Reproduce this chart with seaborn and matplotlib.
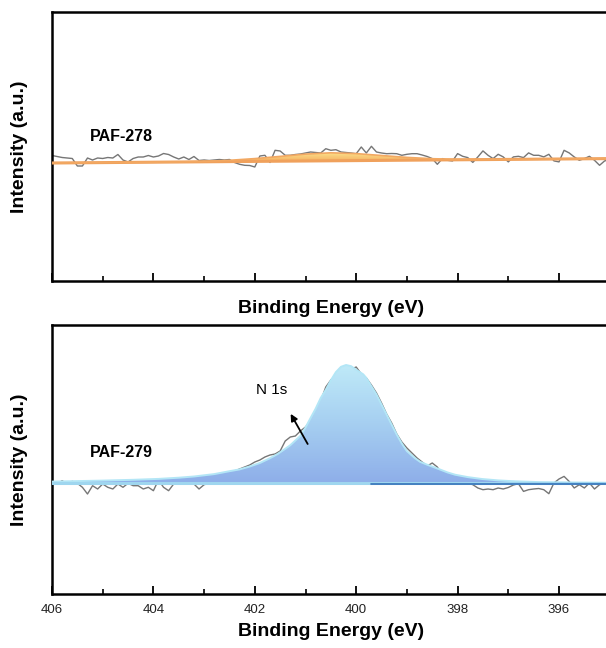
import numpy as np
import pandas as pd
import matplotlib
matplotlib.use("Agg")
import matplotlib.pyplot as plt
import seaborn as sns
from matplotlib.colors import LinearSegmentedColormap
from matplotlib.ticker import MultipleLocator

# ---------------- data ----------------
energy = np.round(np.arange(406.0, 394.95, -0.1), 1)  # binding energy grid (eV)

raw_278 = [7.5, 6.5, 5.5, 5.0, 4.5, -3.0, -3.0, 5.0, 3.0, 5.0,
           4.5, 5.5, 5.0, 8.5, 3.0, 1.0, 4.5, 6.0, 6.0, 7.5,
           6.0, 7.0, 9.5, 8.5, 6.0, 4.0, 6.0, 3.5, 6.5, 2.5,
           3.0, 2.5, 3.0, 3.5, 3.0, 3.5, 0.5, -1.3, -2.3, -2.5,
           -4.0, 7.0, 7.7, 0.5, 12.7, 12.0, 7.7, 7.7, 8.5, 9.0,
           10.0, 11.0, 10.5, 10.0, 14.3, 12.7, 13.3, 11.0, 10.5, 10.0,
           9.3, 16.0, 10.0, 16.7, 11.0, 10.0, 9.3, 9.5, 9.3, 7.7,
           8.7, 9.3, 9.3, 8.0, 6.5, 4.4, -1.3, 4.4, 2.7, 2.0,
           9.4, 6.7, 5.4, 0.6, 6.1, 12.1, 7.7, 4.4, 8.7, 6.1,
           1.1, 6.1, 6.7, 5.4, 10.1, 7.7, 7.7, 6.1, 8.7, 2.1,
           1.1, 12.7, 10.1, 6.1, 2.7, 4.4, 6.7, 2.7, -2.3, 2.1, 3.4]

raw_279 = [0.7, -1.0, 2.3, -1.0, 1.7, -0.3, -4.3, -11.0, -2.7, -6.0,
           -1.0, -4.3, -6.0, -1.0, -4.3, -0.3, -2.7, -2.7, -6.0, -4.3,
           -7.7, 3.0, -4.3, -7.7, -1.0, -0.3, 0.7, 0.3, -1.0, -6.0,
           -1.7, -0.3, -1.0, 0.7, 8.0, 10.0, 12.0, 14.0, 16.0, 18.0,
           21.0, 23.0, 26.0, 28.0, 29.0, 32.0, 42.0, 46.0, 47.0, 52.0,
           56.0, 62.0, 70.0, 82.0, 96.0, 103.0, 108.0, 112.0, 113.0, 114.0,
           116.0, 109.0, 105.0, 98.0, 90.0, 80.0, 69.0, 60.0, 49.0, 41.0,
           35.0, 30.0, 25.0, 21.0, 17.0, 20.0, 16.0, 8.0, 6.0, 5.0,
           4.0, 2.0, 0.0, -1.7, -5.0, -6.7, -6.0, -6.7, -5.0, -6.0,
           -4.5, -2.0, -0.7, -8.4, -6.7, -6.0, -5.5, -6.7, -10.7, 0.0,
           4.0, 6.6, 1.6, -5.0, -1.7, -5.0, 0.0, -6.0, -1.7, 0.0, 0.0]

# fitted component, PAF-278 (total envelope and its background)
fit278_x = [406.0, 403.5, 403.0, 402.5, 402.0, 401.5, 401.0, 400.5,
            400.0, 399.5, 399.0, 398.5, 398.0, 397.5, 395.0]
fit278_bg = [0.0, 1.0, 1.2, 1.4, 1.6, 1.8, 2.0, 2.2,
             2.4, 2.6, 2.8, 3.0, 3.2, 3.4, 4.4]
fit278_y = [0.0, 1.0, 1.6, 2.7, 4.4, 6.6, 8.9, 10.2,
            9.4, 7.5, 5.6, 4.3, 3.6, 3.4, 4.4]

# fitted N 1s component, PAF-279
fit279_x = [406.0, 405.0, 404.4, 403.9, 403.5, 403.2, 402.8, 402.5, 402.3,
            402.1, 401.9, 401.7, 401.55, 401.4, 401.3, 401.2, 401.1, 401.0,
            400.9, 400.8, 400.7, 400.6, 400.5, 400.4, 400.3, 400.2, 400.1,
            400.0, 399.86, 399.8, 399.7, 399.6, 399.5, 399.4, 399.3, 399.2,
            399.1, 399.0, 398.84, 398.74, 398.6, 398.44, 398.2, 398.05, 397.8,
            397.52, 397.2, 396.86, 396.4, 395.7, 395.0]
fit279_y = [1.4, 2.4, 3.2, 4.1, 5.3, 6.5, 8.9, 11.8, 13.6,
            16.5, 20.0, 24.8, 29.0, 34.2, 37.8, 42.5, 47.2, 55.5,
            65.0, 74.3, 85.0, 93.2, 102.7, 110.9, 116.2, 118.0, 116.8,
            113.3, 108.6, 105.0, 96.8, 88.5, 78.5, 68.4, 58.4, 48.4,
            39.5, 31.9, 24.8, 21.2, 18.3, 15.3, 10.6, 8.3, 5.9,
            4.0, 2.6, 1.7, 0.9, 0.5, 0.2]

base279_x = [406.0, 395.0]
base279_y = [0.0, 0.0]
base279_dark_x = [399.7, 395.0]
base279_dark_y = [-0.6, -0.6]

labels = ["PAF-278", "PAF-279"]
peak_label = "N 1s"

# ---------------- style ----------------
sns.set_style("white")
plt.rcParams["font.family"] = ["Liberation Sans", "DejaVu Sans"]
plt.rcParams["text.color"] = "black"
plt.rcParams["axes.labelcolor"] = "black"

W, H = 606, 648
fig = plt.figure(figsize=(W / 100, H / 100), dpi=100)
left = 52 / W
width = (609.7 - 52) / W
ax1 = fig.add_axes([left, 1 - 281 / H, width, 269 / H])
ax2 = fig.add_axes([left, 1 - 594 / H, width, 269 / H])


def grad_fill(ax, x, y0, y1, colors, top):
    poly = ax.fill_between(x, y0, y1, color="none", lw=0)
    cmap = LinearSegmentedColormap.from_list("g", colors)
    grad = np.linspace(0, 1, 256).reshape(-1, 1)
    im = ax.imshow(grad, extent=[395, 406, 0, top], origin="lower",
                   aspect="auto", cmap=cmap, zorder=2)
    im.set_clip_path(poly.get_paths()[0], transform=ax.transData)


# ----- top panel -----
df1 = pd.DataFrame({"E": energy, "I": raw_278})
sns.lineplot(data=df1, x="E", y="I", ax=ax1, color="#767676", lw=1.0, zorder=1)
grad_fill(ax1, fit278_x, fit278_bg, fit278_y, ["#f3a55a", "#fde58c"], 10.2)
sns.lineplot(x=fit278_x, y=fit278_bg, ax=ax1, color="#f0a15c", lw=2.2, zorder=3)
sns.lineplot(x=fit278_x, y=fit278_y, ax=ax1, color="#f2a862", lw=1.2, zorder=3)
ax1.text(405.25, 26.7, labels[0], ha="left", va="center",
         fontsize=11.5, fontweight="bold")
ax1.set_ylim(-118, 151)

# ----- bottom panel -----
df2 = pd.DataFrame({"E": energy, "I": raw_279})
sns.lineplot(data=df2, x="E", y="I", ax=ax2, color="#767676", lw=1.0, zorder=1)
grad_fill(ax2, fit279_x, 0, fit279_y, ["#8eaee9", "#a6cff1", "#bfeaf8"], 118)
sns.lineplot(x=fit279_x, y=fit279_y, ax=ax2, color="#b3e6f6", lw=1.4, zorder=3)
sns.lineplot(x=base279_x, y=base279_y, ax=ax2, color="#9fd6ef", lw=2.2, zorder=3)
sns.lineplot(x=base279_dark_x, y=base279_dark_y, ax=ax2, color="#3572b8", lw=1.2, zorder=4)
ax2.text(405.25, 30.8, labels[1], ha="left", va="center",
         fontsize=11.5, fontweight="bold")
ax2.annotate("", xy=(401.32, 71.6), xytext=(400.93, 36.6),
             arrowprops=dict(arrowstyle="-|>", color="black", lw=1.3,
                             mutation_scale=10), zorder=5)
ax2.text(401.67, 92.6, peak_label, ha="center", va="center", fontsize=11)
ax2.set_ylim(-111, 158)

for ax in (ax1, ax2):
    ax.set_xlim(406, 395)
    ax.set_yticks([])
    ax.xaxis.set_major_locator(MultipleLocator(2))
    ax.xaxis.set_minor_locator(MultipleLocator(1))
    ax.tick_params(axis="x", which="both", bottom=True, top=False)
    ax.tick_params(axis="x", which="major", direction="in", length=5.5,
                   width=1.3, color="black", labelsize=9.5, pad=7,
                   labelcolor="#222222")
    ax.tick_params(axis="x", which="minor", direction="in", length=3.5,
                   width=1.2, color="black")
    for s in ax.spines.values():
        s.set_linewidth(1.8)
        s.set_color("black")
    ax.set_xlabel("Binding Energy (eV)", fontsize=14, fontweight="bold")
    ax.set_ylabel("Intensity (a.u.)", fontsize=14, fontweight="bold")
    ax.yaxis.set_label_coords(-0.043, 0.5)

ax1.tick_params(axis="x", labelbottom=False)
ax1.xaxis.set_label_coords(0.5, -0.07)
ax2.xaxis.set_label_coords(0.5, -0.108)

fig.savefig("out.png", dpi=100)
